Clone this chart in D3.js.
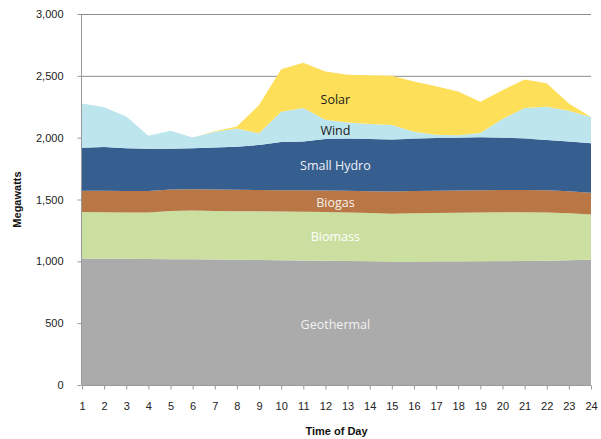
<!DOCTYPE html>
<meta charset="utf-8">
<style>
    body { margin: 0; background: #fff; }
    .tick text { font-family: "Liberation Sans", Arial, sans-serif; font-size: 11px; fill: #222; }
    .lbl { font-family: "Open Sans", sans-serif; font-size: 12.5px; text-anchor: middle; }
    .title { font-family: "Liberation Sans", Arial, sans-serif; font-size: 11px; font-weight: bold; fill: #111; }
</style>
<body>
<div id="chart"></div>
<script src="https://d3js.org/d3.v7.min.js"></script>
<script>
    var hours = d3.range(1, 25);
    var yTicks = [0, 500, 1000, 1500, 2000, 2500, 3000];

    // megawatts per hour
    var geothermal = [1022, 1021, 1020, 1018, 1017, 1016, 1015, 1013, 1011, 1009, 1007, 1005,
                      1002, 998, 995, 995, 996, 997, 999, 1001, 1003, 1005, 1009, 1013];
    var biomass = [376, 375, 375, 377, 391, 395, 393, 393, 393, 393, 393, 393,
                   392, 392, 389, 393, 394, 395, 395, 395, 393, 389, 379, 366];
    var biogas = [172, 174, 173, 173, 172, 172, 172, 172, 172, 173, 175, 175,
                  176, 177, 181, 180, 180, 180, 180, 180, 180, 180, 178, 175];
    var smallHydro = [349, 355, 347, 343, 331, 332, 340, 349, 365, 390, 395, 416,
                      422, 423, 421, 424, 427, 428, 429, 424, 418, 407, 402, 400];
    var wind = [358, 320, 257, 105, 145, 87, 128, 148, 94, 245, 270, 156,
                131, 120, 116, 56, 27, 19, 35, 151, 245, 269, 250, 213];
    var solar = [0, 0, 0, 0, 0, 0, 3, 16, 229, 344, 365, 390,
                 385, 395, 398, 406, 392, 354, 252, 233, 231, 191, 59, 0];

    var series = [
        { name: "Geothermal", values: geothermal, color: "#ababab", text: "#f2f2f2" },
        { name: "Biomass", values: biomass, color: "#cbdfa0", text: "#ffffff" },
        { name: "Biogas", values: biogas, color: "#b97746", text: "#f7f0ea" },
        { name: "Small Hydro", values: smallHydro, color: "#365e8f", text: "#eef2f7" },
        { name: "Wind", values: wind, color: "#bde5ee", text: "#1a1a1a" },
        { name: "Solar", values: solar, color: "#fedf5a", text: "#1a1a1a" }
    ];

    var width = 601, height = 439;
    var margin = { left: 82, right: 10, top: 14, bottom: 54 };

    var svg = d3.select("#chart").append("svg")
        .attr("width", width)
        .attr("height", height);

    var x = d3.scaleLinear().domain([1, 24]).range([margin.left, width - margin.right]);
    var y = d3.scaleLinear().domain([0, 3000]).range([height - margin.bottom, margin.top]);

    // build table for the stack
    var table = hours.map(function (h, i) {
        var row = { hour: h };
        series.forEach(function (s) { row[s.name] = s.values[i]; });
        return row;
    });
    var stacked = d3.stack().keys(series.map(function (s) { return s.name; }))(table);

    // gridlines
    svg.append("g").selectAll("line")
        .data(yTicks.slice(1))
        .enter().append("line")
        .attr("x1", x(1)).attr("x2", x(24))
        .attr("y1", function (d) { return y(d) + 0.5; })
        .attr("y2", function (d) { return y(d) + 0.5; })
        .attr("stroke", "#8c8c8c").attr("stroke-width", 1);

    var area = d3.area()
        .x(function (d) { return x(d.data.hour); })
        .y0(function (d) { return y(d[0]); })
        .y1(function (d) { return y(d[1]); });

    svg.append("g").selectAll("path")
        .data(stacked)
        .enter().append("path")
        .attr("d", area)
        .attr("fill", function (d, i) { return series[i].color; });

    // y axis
    var yAxis = svg.append("g")
        .attr("transform", "translate(" + (margin.left - 0.5) + ",0)")
        .call(d3.axisLeft(y).tickValues(yTicks).tickFormat(d3.format(",")).tickSize(4).tickPadding(14));
    yAxis.selectAll("line, path").attr("stroke", "#999");
    yAxis.select(".domain").attr("d", "M0," + y(0) + "V" + y(3000));

    // x axis
    var xAxis = svg.append("g")
        .attr("transform", "translate(0," + (y(0) + 0.5) + ")")
        .call(d3.axisBottom(x).tickValues(hours).tickFormat(d3.format("d")).tickSize(4).tickPadding(13));
    xAxis.selectAll("line, path").attr("stroke", "#999");
    xAxis.select(".domain").attr("d", "M" + x(1) + ",0H" + x(24));

    // in-area labels
    var labelX = x(12.45);
    var labelY = { "Geothermal": 329, "Biomass": 241, "Biogas": 207, "Small Hydro": 170, "Wind": 135, "Solar": 104 };
    series.forEach(function (s) {
        svg.append("text")
            .attr("class", "lbl")
            .attr("x", labelX)
            .attr("y", labelY[s.name])
            .attr("fill", s.text)
            .text(s.name);
    });

    // axis titles
    svg.append("text")
        .attr("class", "title")
        .attr("text-anchor", "middle")
        .attr("x", x(12.5))
        .attr("y", 435)
        .text("Time of Day");

    svg.append("text")
        .attr("class", "title")
        .attr("text-anchor", "middle")
        .attr("transform", "translate(21," + y(1500) + ") rotate(-90)")
        .text("Megawatts");
</script>
</body>
